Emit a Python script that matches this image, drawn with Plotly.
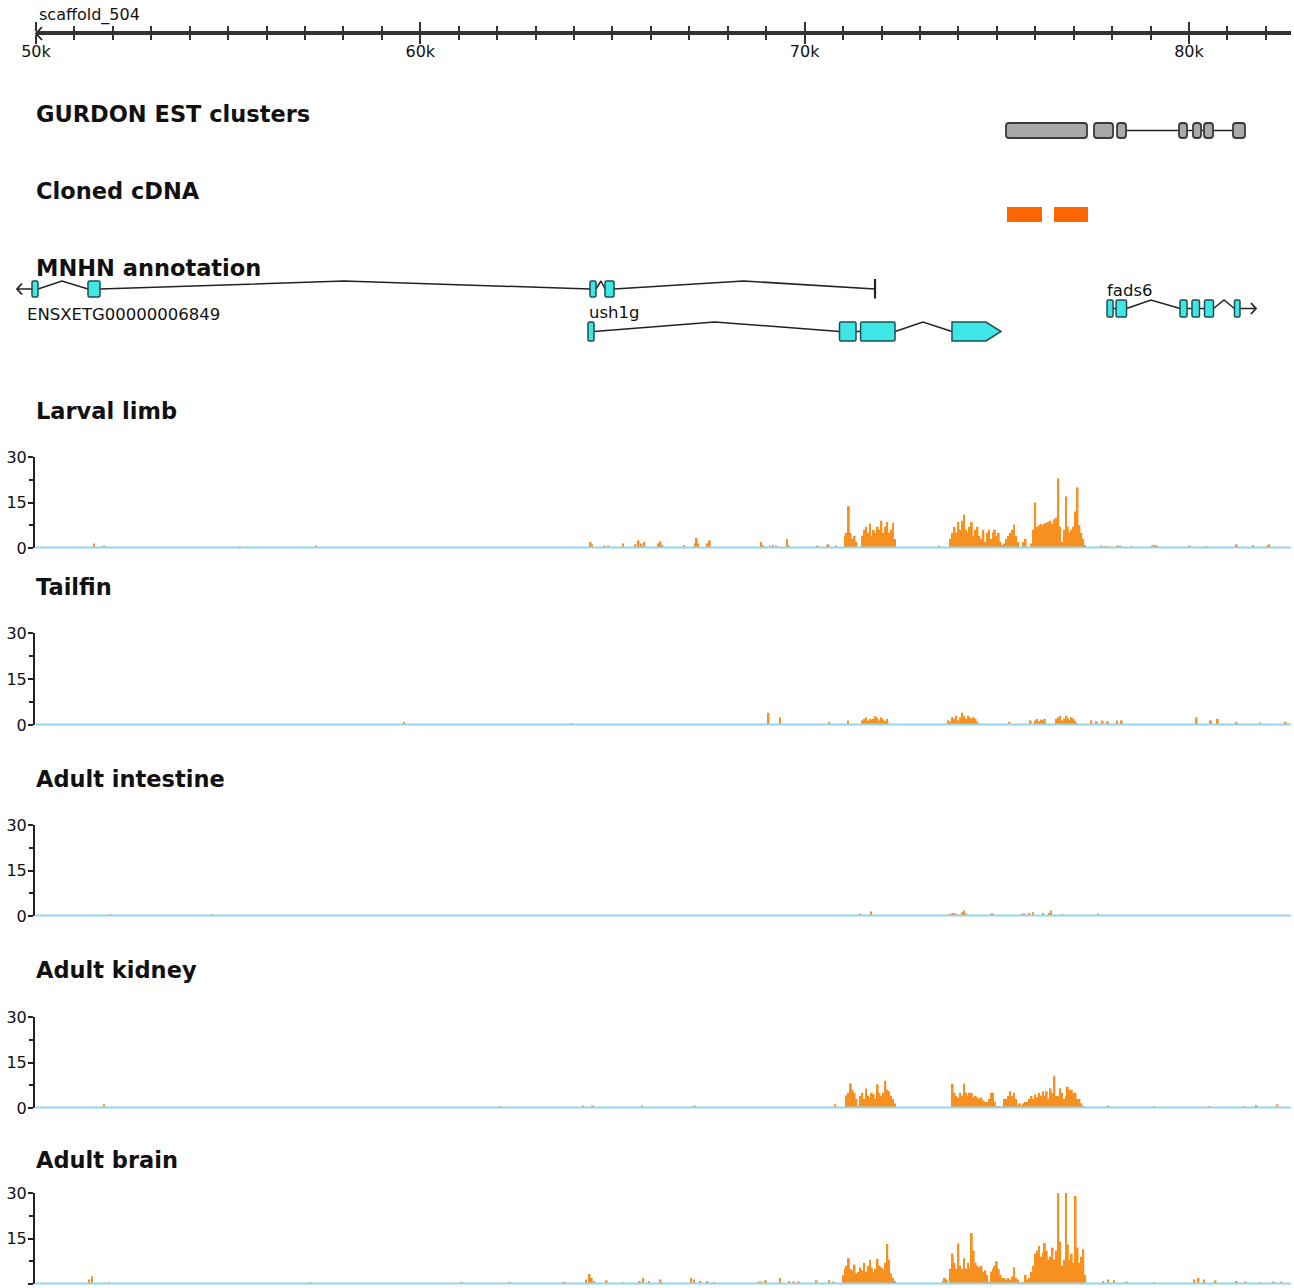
import plotly.graph_objects as go

W, H = 1294, 1288

# ---------------------------------------------------------------- data
SCAFFOLD = "scaffold_504"
RULER_TICKS = [50000, 60000, 70000, 80000]
RULER_LABELS = ["50k", "60k", "70k", "80k"]

# GURDON EST cluster blocks (bp)
est_start = [75239, 77529, 78129, 79741, 80106, 80392, 81146]
est_end = [77347, 78025, 78363, 79950, 80314, 80627, 81459]

# Cloned cDNA blocks (bp)
cdna_start = [75265, 76488]
cdna_end = [76176, 77373]

# MNHN annotation gene models (bp)
ens_name = "ENSXETG00000006849"
ens_exon_start = [49896, 51353, 64415, 64805]
ens_exon_end = [50052, 51665, 64571, 65040]
ens_intron_apex = [50677, 58014, 64701, 68409]
ens_tail = 71831          # terminal mark of the model
ens_arrow = 49506         # minus-strand arrow tip

ush_name = "ush1g"
ush_exon_start = [64363, 70907, 71455, 73834]
ush_exon_end = [64519, 71337, 72352, 74719]
ush_intron_apex = [67655, None, 73079]
ush_arrow = 75109         # plus-strand arrow tip of last exon

fads_name = "fads6"
fads_exon_start = [77868, 78103, 79767, 80079, 80404, 81184]
fads_exon_end = [78025, 78376, 79950, 80274, 80638, 81328]
fads_intron_apex = [None, 79012, None, None, 80912]
fads_arrow = 81744

# RNA-seq coverage: isolated positions (kb) with depth, plus dense runs
# of 50 bp bins given as (first bin kb, [depths])
BIN_KB = 0.05

limb_kb = [51.51, 51.77, 55.31, 57.29, 64.43, 64.47, 64.80, 64.90, 65.28, 65.60, 65.68, 65.75, 65.83,
           66.20, 66.25, 66.30, 66.86, 67.15, 67.19, 67.23, 67.48, 67.53, 68.87, 68.91, 69.10, 69.18,
           69.26, 69.54, 69.58, 70.34, 70.58, 70.62, 70.82, 73.50, 77.71, 77.80, 77.90, 78.15, 78.22,
           78.50, 79.05, 79.11, 79.17, 80.02, 80.45, 81.24, 81.67, 82.05, 82.09]
limb_depth = [1.5, 0.8, 0.5, 0.8, 2.0, 1.2, 0.8, 0.8, 1.5, 1.2, 2.5, 1.5, 2.0,
              1.5, 2.2, 1.0, 1.0, 1.5, 3.3, 1.5, 1.5, 2.5, 2.0, 1.0, 0.8, 1.0,
              0.8, 3.0, 1.0, 0.8, 1.0, 1.2, 0.8, 0.8, 0.8, 0.6, 0.6, 0.8, 0.8,
              0.6, 0.8, 1.0, 0.8, 0.8, 0.6, 1.2, 1.0, 0.8, 1.2]
limb_runs = [
    (71.05, [4, 5, 13.8, 5, 3, 4, 2]),
    (71.50, [4, 6, 7, 5, 8, 4, 6, 5, 7, 6, 9, 5, 7, 8.6, 5, 6, 8.3, 3]),
    (73.80, [3, 5, 7, 5, 8.6, 6, 9, 11, 6, 5, 7, 8.6, 4, 6, 7, 4, 3, 6, 2, 5, 6, 3, 5, 6, 4, 5,
             2, 1, 1.5, 3, 4, 5, 6, 7.7, 4, 2]),
    (75.70, [2, 3]),
    (75.90, [1.5, 6, 15, 7, 7.5, 8, 7.5, 8, 8.3, 8.6, 9, 8, 9.5, 10, 23, 7, 2, 6, 17, 7, 5, 6, 7,
             12, 20, 7.5, 5, 3, 1]),
]

tail_kb = [59.58, 63.94, 69.06, 69.36, 70.64, 71.13, 75.33, 75.88, 77.46, 77.60,
           77.75, 77.89, 78.13, 78.25, 80.20, 80.57, 80.75, 81.24, 81.85, 82.52]
tail_depth = [1.0, 0.5, 4.0, 2.5, 1.0, 1.5, 1.0, 1.5, 1.5, 1.2,
              1.5, 1.2, 1.5, 1.5, 2.5, 1.5, 2.0, 1.0, 0.8, 1.0]
tail_runs = [
    (71.50, [1.5, 2.0, 2.5, 1.5, 2.0, 1.8, 2.0, 2.8, 2.2, 1.5, 2.5, 1.8, 1.2, 2.0]),
    (73.75, [1.5, 1.0, 2.5, 2.0, 3.0, 1.5, 2.5, 4.0, 3.0, 2.0, 3.0, 2.5, 2.0, 2.5, 2.0, 1.0]),
    (76.00, [1.5, 2.0, 1.2, 1.8, 1.5, 2.0]),
    (76.55, [2.0, 2.5, 3.0, 1.5, 2.0, 3.0, 2.2, 1.5, 2.5, 2.0, 1.2]),
]

gut_kb = [51.93, 54.58, 71.46, 71.73, 73.80, 73.88, 73.94, 74.10, 74.15, 74.20,
          74.85, 74.90, 75.66, 75.72, 75.85, 75.94, 76.20, 76.36, 76.41, 76.70, 77.64]
gut_depth = [0.5, 0.5, 0.8, 1.5, 0.8, 1.0, 0.8, 1.2, 1.8, 0.8,
             0.8, 0.8, 0.8, 0.8, 1.0, 1.2, 1.0, 1.0, 1.8, 0.6, 0.8]
gut_runs = []

kidney_kb = [51.77, 62.07, 64.24, 64.49, 65.77, 67.14, 70.80, 77.91, 79.11, 80.54, 81.45, 81.75, 82.30]
kidney_depth = [1.2, 0.6, 0.8, 0.8, 0.8, 0.8, 1.2, 0.8, 0.6, 0.6, 0.6, 1.0, 1.2]
kidney_runs = [
    (71.10, [4.2, 5, 8.1, 6, 5, 3, 0.5, 4, 5, 3, 6.4, 4, 3.5, 5, 4.5, 3, 7.8, 5, 4, 5, 9, 6, 5.5,
             4, 3, 1.5]),
    (73.85, [8, 5, 4, 3.5, 5, 4, 8, 5, 4, 5, 5, 3.5, 4, 3.5, 3, 3.5, 2.5, 2, 2, 3, 5, 5, 2, 0.5,
             0.5, 0, 0.5, 3, 3, 4, 5.5, 4, 5, 3, 1, 1.5, 0.5, 1.5, 2, 2, 3, 4, 3, 4.5, 3.5, 5, 4,
             5.5, 4, 5.5, 3, 6.5, 5, 10.5, 4, 4, 6.5, 5, 3, 4, 7, 6, 6, 5, 5, 3, 3, 1.5, 0.5]),
]

brain_kb = [51.38, 51.46, 51.90, 57.13, 61.08, 62.33, 63.73, 63.77, 64.31, 64.40, 64.46, 64.52,
            64.85, 65.28, 65.71, 65.80, 65.95, 66.25, 67.05, 67.12, 67.29, 67.47, 67.66, 68.81,
            68.87, 68.99, 69.36, 69.60, 69.72, 69.85, 70.31, 70.64, 70.76, 77.77, 77.90, 78.05,
            78.38, 79.11, 80.14, 80.25, 80.39, 80.69, 81.24, 81.48, 81.85, 82.21, 82.40]
brain_depth = [1.5, 2.5, 0.6, 0.6, 0.6, 0.6, 0.6, 0.6, 1.5, 3.3, 2.0, 1.0,
               1.2, 0.6, 1.0, 2.0, 1.0, 1.5, 2.0, 1.5, 1.0, 1.0, 0.6, 0.8,
               0.8, 1.2, 2.0, 1.0, 0.8, 0.8, 1.2, 1.2, 0.8, 1.0, 1.5, 1.2,
               0.8, 0.5, 1.5, 2.0, 1.5, 1.2, 1.0, 0.8, 0.6, 0.8, 0.8]
brain_runs = [
    (71.00, [3, 5, 6, 8.5, 5, 4.5, 6.4, 3.5, 4, 5.5, 4.5, 7, 4, 6, 8, 5.5, 4, 5, 8.3, 6, 5.5, 5,
             7, 13.2, 8, 3.5, 2, 1]),
    (73.60, [1, 2, 1.5, 0, 5, 10, 7, 5, 13.4, 6, 5, 8.5, 5, 7, 5.5, 16.8, 11, 7, 6, 5.5, 6, 4,
             4.5, 3, 0.5, 4, 5, 6, 7.5, 5, 3, 2, 2, 1.5, 2, 1.5, 2.5, 5.5, 2, 1.5, 0.5, 0, 0.5,
             3, 1.5]),
    (75.85, [2, 4, 6, 10, 11, 12.5, 9, 10.5, 13.5, 11, 8, 9, 12, 8, 11, 30, 14, 6, 8, 30, 13, 8,
             10, 7, 29, 12, 7, 9, 11.5, 3]),
]

TRACKS = [
    ("Larval limb", limb_kb, limb_depth, limb_runs),
    ("Tailfin", tail_kb, tail_depth, tail_runs),
    ("Adult intestine", gut_kb, gut_depth, gut_runs),
    ("Adult kidney", kidney_kb, kidney_depth, kidney_runs),
    ("Adult brain", brain_kb, brain_depth, brain_runs),
]
DEPTH_TICKS = [0, 15, 30]

# ---------------------------------------------------------------- layout geometry (pixels)
BP_PER_PX = 26.02
ORIGIN_PX = 36                       # pixel column of 50k
X_LEFT = 50000 - ORIGIN_PX * BP_PER_PX
X_RIGHT = X_LEFT + W * BP_PER_PX
RULER_END = 50000 + (1291 - ORIGIN_PX) * BP_PER_PX
RULER_Y = 33
AXIS_PX = 34

TITLE_Y = {"GURDON EST clusters": 114, "Cloned cDNA": 191, "MNHN annotation": 268,
           "Larval limb": 411, "Tailfin": 587, "Adult intestine": 779,
           "Adult kidney": 970, "Adult brain": 1160}
COV_BOX = [(457, 548), (633, 725), (825, 916), (1017, 1108), (1193, 1284)]

FONT = "DejaVu Sans"
INK = "#222222"
CYAN = "#3fe6e6"
CYAN_EDGE = "#1f4f50"
ORANGE = "#f7901e"
BASELINE = "#96d4ee"

fig = go.Figure()
shapes = []
annotations = []


def px(n):
    return n * BP_PER_PX


def line_trace(xs, ys, width=1.5, color=INK):
    fig.add_trace(go.Scatter(x=xs, y=ys, mode="lines", xaxis="x", yaxis="y",
                             line=dict(color=color, width=width), hoverinfo="skip",
                             showlegend=False))


def rounded_box(x0, x1, y0, y1, r_px):
    """SVG path of a box with rounded corners (x in bp, y in px)."""
    rx = min(px(r_px), (x1 - x0) / 2)
    ry = min(r_px, (y1 - y0) / 2)
    return (f"M {x0 + rx} {y0} L {x1 - rx} {y0} Q {x1} {y0} {x1} {y0 + ry} "
            f"L {x1} {y1 - ry} Q {x1} {y1} {x1 - rx} {y1} L {x0 + rx} {y1} "
            f"Q {x0} {y1} {x0} {y1 - ry} L {x0} {y0 + ry} Q {x0} {y0} {x0 + rx} {y0} Z")


def exon_boxes(starts, ends, yc, half, fill, edge):
    for s, e in zip(starts, ends):
        shapes.append(dict(type="path", xref="x", yref="y",
                           path=rounded_box(s, e, yc - half, yc + half, 1.5),
                           fillcolor=fill, line=dict(color=edge, width=1.5), layer="above"))


def introns(starts, ends, apexes, yc, half):
    xs, ys = [], []
    for i, apex in enumerate(apexes):
        a, b = ends[i], starts[i + 1]
        if apex is None:
            xs += [a, b, None]
            ys += [yc, yc, None]
        else:
            xs += [a, apex, b, None]
            ys += [yc, yc - half, yc, None]
    line_trace(xs, ys)


# ---------------------------------------------------------------- ruler
fig.add_trace(go.Scatter(x=[50000, RULER_END], y=[0, 0], xaxis="x2", yaxis="y7",
                         mode="lines", line=dict(width=0), hoverinfo="skip", showlegend=False))
line_trace([50000 + px(6), 50000, 50000 + px(6)], [RULER_Y - 6, RULER_Y + 0.5, RULER_Y + 7], width=1.8)
annotations.append(dict(x=50000 + px(1), y=15, xref="x", yref="y", text=SCAFFOLD,
                        showarrow=False, xanchor="left", yanchor="middle",
                        font=dict(family=FONT, size=16, color="#111")))

# ---------------------------------------------------------------- EST clusters
EST_Y, EST_H = 130.5, 7.5
line_trace([est_end[2], est_start[-1]], [EST_Y, EST_Y])
for s, e in zip(est_start, est_end):
    shapes.append(dict(type="path", xref="x", yref="y",
                       path=rounded_box(s, e, EST_Y - EST_H, EST_Y + EST_H, 3),
                       fillcolor="#a9a9a9", line=dict(color="#3a3a3a", width=1.8), layer="above"))

# ---------------------------------------------------------------- cloned cDNA
CDNA_Y, CDNA_H = 214.5, 7.5
for s, e in zip(cdna_start, cdna_end):
    shapes.append(dict(type="rect", xref="x", yref="y", x0=s, x1=e, y0=CDNA_Y - CDNA_H,
                       y1=CDNA_Y + CDNA_H, fillcolor="#ff6600", line=dict(width=0), layer="above"))

# ---------------------------------------------------------------- gene models
ENS_Y, ENS_H = 289, 8
introns(ens_exon_start + [ens_tail], ens_exon_end, ens_intron_apex, ENS_Y, ENS_H)
line_trace([ens_arrow, ens_exon_start[0]], [ENS_Y, ENS_Y])
line_trace([ens_arrow + px(5), ens_arrow, ens_arrow + px(5)], [ENS_Y - 5.5, ENS_Y, ENS_Y + 5.5], width=1.8)
line_trace([ens_tail, ens_tail], [ENS_Y - 10, ENS_Y + 9.5], width=2.2)
exon_boxes(ens_exon_start, ens_exon_end, ENS_Y, ENS_H, CYAN, CYAN_EDGE)
annotations.append(dict(x=ens_exon_start[0] - px(7), y=314, xref="x", yref="y", text=ens_name,
                        showarrow=False, xanchor="left", yanchor="middle",
                        font=dict(family=FONT, size=16.5, color="#111")))

USH_Y, USH_H = 331.5, 9.5
introns(ush_exon_start, ush_exon_end, ush_intron_apex, USH_Y, USH_H)
exon_boxes(ush_exon_start[:-1], ush_exon_end[:-1], USH_Y, USH_H, CYAN, CYAN_EDGE)
s, e = ush_exon_start[-1], ush_exon_end[-1]
shapes.append(dict(type="path", xref="x", yref="y",
                   path=f"M {s} {USH_Y - USH_H} L {e} {USH_Y - USH_H} L {ush_arrow} {USH_Y} "
                        f"L {e} {USH_Y + USH_H} L {s} {USH_Y + USH_H} Z",
                   fillcolor=CYAN, line=dict(color=CYAN_EDGE, width=1.5), layer="above"))
annotations.append(dict(x=ush_exon_start[0] - px(1.5), y=312, xref="x", yref="y", text=ush_name,
                        showarrow=False, xanchor="left", yanchor="middle",
                        font=dict(family=FONT, size=16.5, color="#111")))

FADS_Y, FADS_H = 308.5, 8.5
introns(fads_exon_start, fads_exon_end, fads_intron_apex, FADS_Y, FADS_H)
line_trace([fads_exon_end[-1], fads_arrow], [FADS_Y, FADS_Y])
line_trace([fads_arrow - px(5), fads_arrow, fads_arrow - px(5)], [FADS_Y - 5.5, FADS_Y, FADS_Y + 5.5], width=1.8)
exon_boxes(fads_exon_start, fads_exon_end, FADS_Y, FADS_H, CYAN, CYAN_EDGE)
annotations.append(dict(x=fads_exon_start[0] - px(2), y=290, xref="x", yref="y", text=fads_name,
                        showarrow=False, xanchor="left", yanchor="middle",
                        font=dict(family=FONT, size=16.5, color="#111")))

# ---------------------------------------------------------------- coverage tracks
layout_axes = {}
for i, ((name, kb, depth, runs), (top, bottom)) in enumerate(zip(TRACKS, COV_BOX)):
    ax = f"y{i + 2}"
    xs = [k * 1000 for k in kb]
    ys = list(depth)
    for start, vals in runs:
        for j, v in enumerate(vals):
            xs.append((start + j * BIN_KB) * 1000)
            ys.append(v)
    fig.add_trace(go.Bar(x=xs, y=ys, width=48, xaxis="x", yaxis=ax,
                         marker=dict(color=ORANGE, line=dict(width=0)),
                         hoverinfo="skip", showlegend=False))
    # zero-depth baseline, drawn on the page-level axis so it is not clipped
    shapes.append(dict(type="line", xref="x", yref="y", x0=50000, x1=RULER_END,
                       y0=bottom - 0.5, y1=bottom - 0.5,
                       line=dict(color=BASELINE, width=2), layer="above"))
    layout_axes[f"yaxis{i + 2}"] = dict(
        domain=[1 - bottom / H, 1 - top / H], range=[0, 30], anchor="free",
        position=AXIS_PX / W, tickvals=DEPTH_TICKS, ticks="outside", ticklen=5,
        tickwidth=1.5, tickcolor=INK, showline=True, linecolor=INK, linewidth=2,
        showgrid=False, zeroline=False, fixedrange=True, automargin=False,
        ticklabelstandoff=-2,
        tickfont=dict(family=FONT, size=16, color="#111"),
        minor=dict(tickvals=[7.5, 22.5], ticks="outside", ticklen=4, tickwidth=1.5,
                   tickcolor=INK, showgrid=False))

# ---------------------------------------------------------------- track titles
for title, yy in TITLE_Y.items():
    annotations.append(dict(x=50000 - px(2.5), y=yy, xref="x", yref="y", text=f"<b>{title}</b>",
                            showarrow=False, xanchor="left", yanchor="middle",
                            font=dict(family=FONT, size=22.5, color="#111")))

fig.update_layout(
    width=W, height=H, margin=dict(l=0, r=0, t=0, b=0, pad=0, autoexpand=False),
    paper_bgcolor="white", plot_bgcolor="rgba(0,0,0,0)", barmode="overlay",
    showlegend=False, shapes=shapes, annotations=annotations,
    xaxis=dict(domain=[0, 1], range=[X_LEFT, X_RIGHT], visible=False, fixedrange=True,
               automargin=False),
    yaxis=dict(domain=[0, 1], range=[H, 0], visible=False, fixedrange=True, automargin=False),
    xaxis2=dict(domain=[ORIGIN_PX / W, 1291 / W], range=[50000, RULER_END], anchor="y7",
                side="bottom", showline=True, linecolor="#333", linewidth=2, mirror="ticks",
                ticks="outside", ticklen=9, tickwidth=1.5, tickcolor="#333", automargin=False,
                ticklabelstandoff=-7,
                tickvals=RULER_TICKS, ticktext=RULER_LABELS, showgrid=False, zeroline=False,
                tickfont=dict(family=FONT, size=16, color="#111"), fixedrange=True,
                minor=dict(dtick=1000, ticks="outside", ticklen=5, tickwidth=1.5,
                           tickcolor="#333", showgrid=False)),
    yaxis7=dict(domain=[1 - (RULER_Y + 0.4) / H, 1 - RULER_Y / H], anchor="x2", visible=False,
                range=[-1, 1], fixedrange=True, automargin=False),
    **layout_axes,
)

fig.write_html("out.html")
